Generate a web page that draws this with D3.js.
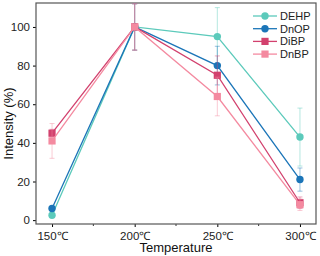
<!DOCTYPE html>
<html>
<head>
<meta charset="utf-8">
<script src="https://cdn.jsdelivr.net/npm/d3@7"></script>
<style>
  body { margin: 0; background: #fff; }
  svg { font-family: "Liberation Sans", Arial, sans-serif; }
</style>
</head>
<body>
<div class="chart"></div>
<script>
// data
var temps = [150, 200, 250, 300];
var tickLabels = ['150\u2103', '200\u2103', '250\u2103', '300\u2103'];
var seriesNames = ['DEHP', 'DnOP', 'DiBP', 'DnBP'];
var dehp = [2.5, 100, 95, 43];
var dehpErr = [0, 12, 15, 15];
var dnop = [6, 100, 80, 21];
var dnopErr = [0, 12, 10, 6];
var dibp = [45, 100, 75, 9];
var dibpErr = [2, 12, 10, 3];
var dnbp = [41, 100, 64, 8];
var dnbpErr = [9, 12, 10, 3];
var yTicks = [0, 20, 40, 60, 80, 100];

var colors = ['#5ccabb', '#1b75b8', '#d2416e', '#f48aa0'];
var shapes = ['circle', 'circle', 'square', 'square'];

var config = {};
config.svg = { width: 320, height: 256 };
config.margin = { top: 3, right: 4, bottom: 32, left: 36 };
config.plot = {
    width: config.svg.width - config.margin.left - config.margin.right,
    height: config.svg.height - config.margin.top - config.margin.bottom
};

var translate = (x, y) => "translate(" + x + "," + y + ")";

var errs = [dehpErr, dnopErr, dibpErr, dnbpErr];
var series = [dehp, dnop, dibp, dnbp].map((vals, i) => ({
    name: seriesNames[i],
    color: colors[i],
    shape: shapes[i],
    points: vals.map((v, j) => ({ t: temps[j], v: v, e: errs[i][j] }))
}));

var xScale = d3.scaleLinear().domain([140.3, 309.7]).range([0, config.plot.width]);
var yScale = d3.scaleLinear().domain([-2, 112.4]).range([config.plot.height, 0]);

var svg = d3.select('.chart').append('svg')
    .attr('width', config.svg.width)
    .attr('height', config.svg.height)
    .append('g')
    .attr('transform', translate(config.margin.left, config.margin.top));

// x axis with minor ticks in between
var xAxis = d3.axisBottom(xScale)
    .tickValues(temps)
    .tickFormat((d, i) => tickLabels[i])
    .tickSize(3)
    .tickSizeOuter(0);
var gx = svg.append('g')
    .attr('transform', translate(0, config.plot.height))
    .call(xAxis);
gx.selectAll('text').attr('font-size', '11.5px').attr('fill', '#222').attr('dy', '0.9em');
gx.select('.domain').remove();
gx.selectAll('.minor')
    .data([175, 225, 275])
    .enter().append('line')
    .attr('class', 'minor')
    .attr('x1', d => xScale(d)).attr('x2', d => xScale(d))
    .attr('y1', 0).attr('y2', 2)
    .attr('stroke', '#333');

var yAxis = d3.axisLeft(yScale)
    .tickValues(yTicks)
    .tickSize(3)
    .tickSizeOuter(0);
var gy = svg.append('g').call(yAxis);
gy.selectAll('text').attr('font-size', '11.5px').attr('fill', '#222');
gy.select('.domain').remove();

// frame
svg.append('rect')
    .attr('x', 0).attr('y', 0)
    .attr('width', config.plot.width)
    .attr('height', config.plot.height)
    .attr('fill', 'none')
    .attr('stroke', '#555')
    .attr('stroke-width', 1.2);

// lines
var line = d3.line().x(d => xScale(d.t)).y(d => yScale(d.v));

var groups = svg.selectAll('g.series')
    .data(series)
    .enter().append('g')
    .attr('class', 'series');

// error bars
groups.each(function (s) {
    var g = d3.select(this);
    var bars = g.selectAll('g.err')
        .data(s.points.filter(p => p.e > 0))
        .enter().append('g')
        .attr('class', 'err')
        .attr('stroke', s.color)
        .attr('stroke-opacity', 0.45)
        .attr('stroke-width', 1);
    bars.append('line')
        .attr('x1', d => xScale(d.t)).attr('x2', d => xScale(d.t))
        .attr('y1', d => yScale(d.v - d.e)).attr('y2', d => yScale(d.v + d.e));
    bars.append('line')
        .attr('x1', d => xScale(d.t) - 2.5).attr('x2', d => xScale(d.t) + 2.5)
        .attr('y1', d => yScale(d.v - d.e)).attr('y2', d => yScale(d.v - d.e));
    bars.append('line')
        .attr('x1', d => xScale(d.t) - 2.5).attr('x2', d => xScale(d.t) + 2.5)
        .attr('y1', d => yScale(d.v + d.e)).attr('y2', d => yScale(d.v + d.e));
});

groups.append('path')
    .attr('d', s => line(s.points))
    .attr('fill', 'none')
    .attr('stroke', s => s.color)
    .attr('stroke-width', 1.3);

var drawMarker = function (sel, s, x, y) {
    if (s.shape === 'circle') {
        sel.append('circle').attr('cx', x).attr('cy', y).attr('r', 3.7).attr('fill', s.color);
    } else {
        sel.append('rect').attr('x', x - 3.6).attr('y', y - 3.6).attr('width', 7.2).attr('height', 7.2).attr('fill', s.color);
    }
};

groups.each(function (s) {
    var g = d3.select(this);
    s.points.forEach(p => drawMarker(g, s, xScale(p.t), yScale(p.v)));
});

// legend
var legend = svg.append('g').attr('transform', translate(217, 13));
series.forEach((s, i) => {
    var row = legend.append('g').attr('transform', translate(0, i * 12.7));
    row.append('line').attr('x1', 0).attr('x2', 24).attr('y1', 0).attr('y2', 0)
        .attr('stroke', s.color).attr('stroke-width', 1.3);
    drawMarker(row, s, 12, 0);
    row.append('text').attr('x', 27).attr('y', 0).attr('dy', '0.35em')
        .attr('font-size', '11px').attr('fill', '#222').text(s.name);
});

// axis titles
svg.append('text')
    .attr('x', config.plot.width / 2)
    .attr('y', config.plot.height + 28)
    .attr('text-anchor', 'middle')
    .attr('font-size', '13px')
    .attr('fill', '#111')
    .text('Temperature');

svg.append('text')
    .attr('transform', translate(-23, yScale(50)) + ' rotate(-90)')
    .attr('text-anchor', 'middle')
    .attr('font-size', '13px')
    .attr('fill', '#111')
    .text('Intensity (%)');
</script>
</body>
</html>
